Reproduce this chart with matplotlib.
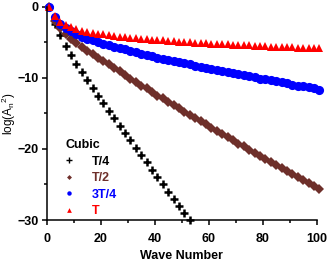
import matplotlib
matplotlib.use("Agg")
import matplotlib.pyplot as plt
from matplotlib.lines import Line2D
from matplotlib.ticker import MultipleLocator

plt.rcParams['font.family'] = ['Liberation Sans', 'DejaVu Sans']
plt.rcParams['mathtext.fontset'] = 'custom'
plt.rcParams['mathtext.rm'] = 'Liberation Sans'
plt.rcParams['mathtext.it'] = 'Liberation Sans'

# wave numbers (odd harmonics)
n_all = list(range(1, 102, 2))
n_quarter = list(range(1, 54, 2))

# log(A_n^2)
t_quarter = [0, -2.4, -4.0, -5.5, -6.8, -8.0, -9.2, -10.3, -11.4, -12.5,
             -13.6, -14.6, -15.7, -16.8, -17.8, -18.8, -19.9, -20.9, -21.9, -22.9,
             -23.9, -25.0, -26.0, -27.0, -28.0, -29.0, -30.0]
t_half = [0, -2.0, -3.0, -3.8, -4.5, -5.1, -5.7, -6.2, -6.7, -7.2,
          -7.6, -8.1, -8.6, -9.1, -9.6, -10.1, -10.6, -11.1, -11.5, -12.0,
          -12.5, -12.9, -13.4, -13.85, -14.3, -14.75, -15.2, -15.65, -16.1, -16.55,
          -17.0, -17.45, -17.9, -18.35, -18.8, -19.25, -19.65, -20.1, -20.55, -21.0,
          -21.4, -21.85, -22.25, -22.7, -23.15, -23.55, -24.0, -24.4, -24.85, -25.25,
          -25.65]
t_3quarter = [0, -1.5, -2.4, -3.0, -3.45, -3.85, -4.2, -4.5, -4.75, -5.0,
              -5.2, -5.4, -5.6, -5.8, -6.0, -6.2, -6.4, -6.6, -6.8, -7.0,
              -7.15, -7.3, -7.45, -7.6, -7.8, -7.95, -8.1, -8.3, -8.45, -8.6,
              -8.75, -8.9, -9.05, -9.2, -9.35, -9.5, -9.65, -9.8, -9.95, -10.1,
              -10.2, -10.35, -10.5, -10.65, -10.8, -10.95, -11.1, -11.2, -11.35, -11.5,
              -11.65]
t_full = [0, -1.3, -2.1, -2.55, -2.9, -3.15, -3.35, -3.5, -3.65, -3.8,
          -3.9, -4.0, -4.1, -4.2, -4.3, -4.35, -4.45, -4.5, -4.6, -4.65,
          -4.7, -4.75, -4.8, -4.85, -4.9, -4.95, -5.0, -5.05, -5.1, -5.15,
          -5.2, -5.2, -5.25, -5.3, -5.35, -5.4, -5.4, -5.45, -5.5, -5.5,
          -5.55, -5.6, -5.6, -5.65, -5.7, -5.7, -5.75, -5.8, -5.8, -5.85,
          -5.85]

labels = ['T/4', 'T/2', '3T/4', 'T']
colors = ['black', '#6e2f2a', 'blue', 'red']

fig = plt.figure(figsize=(3.27, 2.62), dpi=100)
ax = fig.add_axes([0.1425, 0.1603, 0.826, 0.8141])

ax.plot(n_quarter, t_quarter, ls='none', marker='+', ms=6, mew=1.8,
        color=colors[0], clip_on=False)
ax.plot(n_all, t_half, ls='none', marker='D', ms=4.6, mew=0,
        color=colors[1], clip_on=False)
ax.plot(n_all, t_3quarter, ls='none', marker='o', ms=6.6, mew=0,
        color=colors[2], clip_on=False)
ax.plot(n_all, t_full, ls='none', marker='^', ms=5.4, mew=0,
        color=colors[3], clip_on=False)

ax.set_xlim(0, 100)
ax.set_ylim(-30, 0)
ax.xaxis.set_major_locator(MultipleLocator(20))
ax.xaxis.set_minor_locator(MultipleLocator(10))
ax.yaxis.set_major_locator(MultipleLocator(10))
ax.yaxis.set_minor_locator(MultipleLocator(5))

for side in ['top', 'right']:
    ax.spines[side].set_visible(False)
for side in ['left', 'bottom']:
    ax.spines[side].set_linewidth(1.1)

ax.tick_params(which='major', direction='out', length=3.6, width=1.1, labelsize=9)
ax.tick_params(which='minor', direction='out', length=2.2, width=1.1)
ax.tick_params(axis='x', which='major', pad=5.5)
ax.tick_params(axis='y', which='major', pad=2)
for lbl in ax.get_xticklabels() + ax.get_yticklabels():
    lbl.set_fontweight('bold')

ax.set_xlabel('Wave Number', fontsize=9, fontweight='bold', labelpad=4)
ax.set_ylabel(r'log(A$_n$$^2$)', fontsize=8.5)
ax.yaxis.set_label_coords(-0.105, 0.5)

# small legend markers, like the original
handles = [
    Line2D([], [], ls='none', marker='+', ms=4, mew=1.0, color=colors[0]),
    Line2D([], [], ls='none', marker='D', ms=2.5, mew=0, color=colors[1]),
    Line2D([], [], ls='none', marker='o', ms=3.2, mew=0, color=colors[2]),
    Line2D([], [], ls='none', marker='^', ms=3.4, mew=0, color=colors[3]),
]
leg = ax.legend(handles, labels, title='Cubic', loc='upper left',
                bbox_to_anchor=(0.182, 0.492), bbox_transform=fig.transFigure,
                frameon=False, fontsize=9, handlelength=0.5, handletextpad=1.6,
                labelspacing=0.36, borderpad=0, alignment='left',
                labelcolor=colors)
leg.get_title().set_fontweight('bold')
leg.get_title().set_fontsize(9)
for t in leg.get_texts():
    t.set_fontweight('bold')

fig.savefig('out.png', dpi=100)
